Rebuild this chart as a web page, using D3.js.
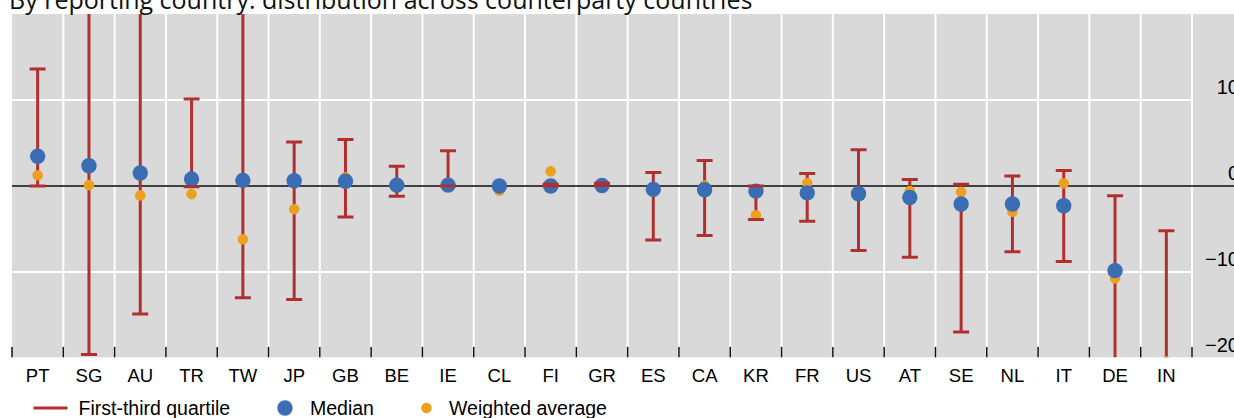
<!DOCTYPE html>
<html><head><meta charset="utf-8">
<script src="https://cdn.jsdelivr.net/npm/d3@7"></script>
<style>
html,body{margin:0;padding:0;background:#fff;}
svg{display:block;}
</style></head>
<body>
<svg id="chart" width="1234" height="418"></svg>
<script>
const title = "By reporting country: distribution across counterparty countries";
const categories = ["PT","SG","AU","TR","TW","JP","GB","BE","IE","CL","FI","GR","ES","CA","KR","FR","US","AT","SE","NL","IT","DE","IN"];
const firstQuartile = [0, -19.6, -14.9, -0.1, -13.0, -13.2, -3.6, -1.2, 0, null, 0, 0.05, -6.3, -5.75, -3.9, -4.1, -7.5, -8.3, -17.0, -7.65, -8.8, -25, -25];
const thirdQuartile = [13.6, 25, 25, 10.1, 25, 5.1, 5.4, 2.3, 4.1, null, 0.2, 0.3, 1.55, 2.95, 0, 1.45, 4.2, 0.75, 0.2, 1.15, 1.8, -1.15, -5.2];
const median = [3.45, 2.35, 1.5, 0.8, 0.65, 0.6, 0.55, 0.1, 0.1, 0, 0, 0.05, -0.4, -0.45, -0.6, -0.8, -0.9, -1.35, -2.1, -2.1, -2.3, -9.85, -22];
const weightedAvg = [1.25, 0.1, -1.1, -0.95, -6.2, -2.7, 1.0, 0.1, 0, -0.55, 1.7, 0, -0.4, 0.05, -3.4, 0.35, -0.9, -0.6, -0.7, -3.0, 0.3, -10.75, -20.4];
const yTicks = [-20, -10, 0, 10];
const legendLabels = ["First-third quartile", "Median", "Weighted average"];

const RED = "#b03030", BLUE = "#3a6db3", ORANGE = "#eba020", BG = "#d9d9d9";
const svg = d3.select("#chart");
const L = 12, R = 1192, T = 14, B = 357.9;

const x = d3.scaleBand().domain(categories).range([L, R]).padding(0);
const y = d3.scaleLinear().domain([-20, 20]).range([B, T]);

// background
svg.append("rect").attr("x", L).attr("y", T).attr("width", 1234 - L).attr("height", B - T - 0.6).attr("fill", BG);

// clip
svg.append("defs").append("clipPath").attr("id", "plotclip")
  .append("rect").attr("x", L).attr("y", T).attr("width", R - L).attr("height", B - T - 0.6);

// vertical gridlines at category boundaries
const bounds = categories.map(c => x(c)).concat([x(categories[categories.length - 1]) + x.bandwidth()]);
svg.append("g").selectAll("line").data(bounds.slice(1)).join("line")
  .attr("x1", d => d).attr("x2", d => d).attr("y1", T).attr("y2", B)
  .attr("stroke", "#fff").attr("stroke-width", 2);

// horizontal gridlines
svg.append("g").selectAll("line").data([10, -10]).join("line")
  .attr("x1", L).attr("x2", R).attr("y1", d => y(d)).attr("y2", d => y(d))
  .attr("stroke", "#fff").attr("stroke-width", 2);

// zero line
svg.append("line").attr("x1", L).attr("x2", 1234).attr("y1", y(0)).attr("y2", y(0))
  .attr("stroke", "#404040").attr("stroke-width", 2);

// bottom boundary ticks
svg.append("g").selectAll("line").data(bounds).join("line")
  .attr("x1", d => d).attr("x2", d => d).attr("y1", B - 11).attr("y2", B - 0.6)
  .attr("stroke", "#111").attr("stroke-width", 1.5);

const data = categories.map((c, i) => ({c, q1: firstQuartile[i], q3: thirdQuartile[i], m: median[i], w: weightedAvg[i]}));
const plot = svg.append("g").attr("clip-path", "url(#plotclip)");
const cx = d => x(d.c) + x.bandwidth() / 2;
const withQ = data.filter(d => d.q1 !== null && d.q3 !== null);

// whiskers
plot.append("g").selectAll("line").data(withQ).join("line")
  .attr("x1", cx).attr("x2", cx).attr("y1", d => y(d.q3)).attr("y2", d => y(d.q1))
  .attr("stroke", RED).attr("stroke-width", 3);

// weighted average
plot.append("g").selectAll("circle").data(data).join("circle")
  .attr("cx", cx).attr("cy", d => y(d.w)).attr("r", 5.3).attr("fill", ORANGE);
// median
plot.append("g").selectAll("circle").data(data).join("circle")
  .attr("cx", cx).attr("cy", d => y(d.m)).attr("r", 7.7).attr("fill", BLUE);

// caps
const caps = [];
withQ.forEach(d => { caps.push({d, v: d.q1}); caps.push({d, v: d.q3}); });
plot.append("g").selectAll("line").data(caps).join("line")
  .attr("x1", k => cx(k.d) - 8).attr("x2", k => cx(k.d) + 8)
  .attr("y1", k => y(k.v)).attr("y2", k => y(k.v))
  .attr("stroke", RED).attr("stroke-width", 3);

// category labels
const xAxis = d3.axisBottom(x).tickSize(0).tickPadding(0);
const gx = svg.append("g").attr("transform", `translate(0,${B})`).call(xAxis);
gx.select(".domain").remove();
gx.selectAll("text").attr("dy", null).attr("y", 24.5)
  .attr("font-family", "Liberation Sans, Arial, sans-serif").attr("font-size", 18.5).attr("fill", "#000");

// y labels on right
svg.append("g").selectAll("text").data(yTicks).join("text")
  .attr("x", 1239).attr("y", d => y(d) - 5.5).attr("text-anchor", "end")
  .attr("font-family", "Liberation Sans, Arial, sans-serif").attr("font-size", 20).attr("fill", "#000")
  .text(d => d < 0 ? "\u2212" + Math.abs(d) : d);

// title
svg.append("text").attr("x", 9).attr("y", 9).attr("font-family", "Open Sans, Noto Sans, sans-serif")
  .attr("font-size", 25).attr("fill", "#111").text(title);

// legend
const lg = svg.append("g").attr("font-family", "Liberation Sans, Arial, sans-serif").attr("font-size", 19.5).attr("fill", "#000");
const LY = 408;
lg.append("line").attr("x1", 33.5).attr("x2", 67.5).attr("y1", LY).attr("y2", LY).attr("stroke", RED).attr("stroke-width", 3);
lg.append("text").attr("x", 78.5).attr("y", LY + 6.5).text(legendLabels[0]);
lg.append("circle").attr("cx", 285).attr("cy", LY).attr("r", 7.7).attr("fill", BLUE);
lg.append("text").attr("x", 310).attr("y", LY + 6.5).text(legendLabels[1]);
lg.append("circle").attr("cx", 426.5).attr("cy", LY).attr("r", 5.3).attr("fill", ORANGE);
lg.append("text").attr("x", 449).attr("y", LY + 6.5).text(legendLabels[2]);
</script>
</body></html>
